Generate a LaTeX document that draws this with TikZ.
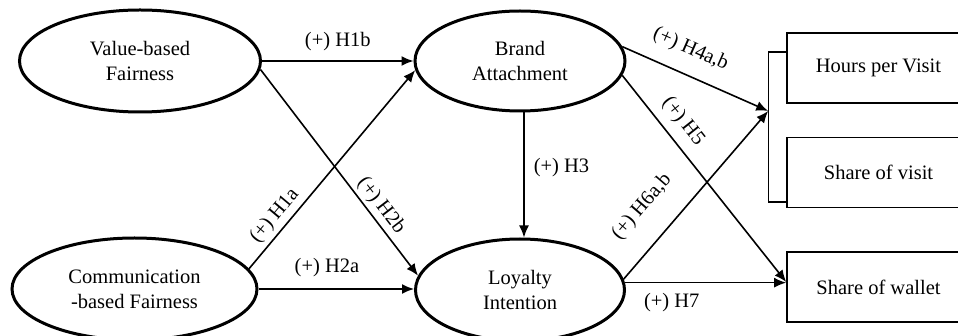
\documentclass[tikz,border=0pt]{standalone}
\usepackage{fontspec}
\setmainfont{Liberation Serif}
\usetikzlibrary{arrows.meta,shapes.geometric,positioning}

\begin{document}
\begin{tikzpicture}[x=1pt,y=-1pt,->,>={Latex[length=12pt,width=10pt]},
                    line width=1.6pt,font=\fontsize{20.5}{25}\selectfont]
  \tikzstyle{latent}=[ellipse,draw,line width=3pt,inner sep=0pt,align=center,
                      minimum height=102pt]
  \tikzstyle{outcome}=[rectangle,draw,minimum width=183pt,minimum height=70pt]
  \tikzstyle{hyp}=[inner sep=0pt]

  \useasboundingbox (0,0) rectangle (958,336);

  \node[latent, minimum width=241pt] (vbf) at (140,61)             {Value-based\\Fairness};
  \node[latent, minimum width=210pt, minimum height=100pt, node distance=380pt]
        (ba) [right of=vbf]                                         {Brand\\Attachment};
  \node[latent, minimum width=245pt, node distance=228pt]
        (cbf) [below of=vbf, xshift=-5.5pt]                         {Communication\\-based Fairness};
  \node[latent, minimum width=209pt, node distance=229pt]
        (li) [below of=ba]                                          {Loyalty\\Intention};

  \node[outcome] (hpv) at (878.5,68)                                {Hours per Visit};
  \node[outcome, node distance=104.5pt] (sov) [below of=hpv]        {Share of visit};
  \node[outcome, node distance=114.5pt] (sow) [below of=sov]        {Share of wallet};

  % bracket round the two visit measures
  \draw[-,line width=1.3pt] ([yshift=16pt]hpv.west) -- ++(-18,0) coordinate (bt)
        |- ([yshift=-29.5pt]sov.west);
  \coordinate[below=59pt of bt] (bk);

  \path (vbf.east)  edge node[hyp, above=9pt]                 {(+) H1b}   (ba.west)
        (vbf.-4)    edge node[hyp, sloped, above=3pt, pos=0.7] {(+) H2b}  (li.172)
        (cbf.10)    edge node[hyp, sloped, above=4pt, pos=0.22] {(+) H1a} (ba.185)
        (cbf.east)  edge node[hyp, above=11pt, pos=0.44]       {(+) H2a}  (cbf.east -| li.west)
        ([xshift=4pt]ba.south) edge node[hyp, right=9pt, pos=0.44] {(+) H3} ([xshift=4pt]li.north)
        (ba.8)      edge node[hyp, sloped, above=15pt, pos=0.4] {(+) H4a,b} (bk)
        (ba.-8)     edge node[hyp, sloped, above=9pt, pos=0.28] {(+) H5}  ([yshift=5pt]sow.west)
        (li.6)      edge node[hyp, sloped, above=23pt, pos=0.3] {(+) H6a,b} (bk)
        (li.4)      edge node[hyp, below=10pt, pos=0.29]        {(+) H7}  (li.4 -| sow.west);
\end{tikzpicture}
\end{document}
